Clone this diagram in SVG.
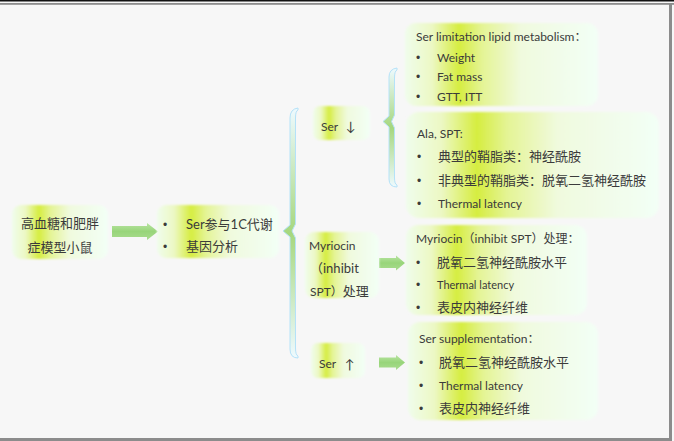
<svg xmlns="http://www.w3.org/2000/svg" width="674" height="441" viewBox="0 0 674 441">
<style>
.t{font-family:"Lato","Noto Sans CJK SC",sans-serif;font-size:12px;fill:#3b3b3b}
.c{font-family:"Lato","Noto Sans CJK SC",sans-serif;font-size:13px;fill:#3b3b3b}
.b{font-family:"Liberation Sans",sans-serif;font-size:12px;fill:#3b3b3b}
.box{fill:url(#g);filter:url(#soft)}
.brace{fill:url(#bg);stroke:#b5e2f8;stroke-width:1}
.arr{fill:url(#ag)}
</style>
<defs>
<linearGradient id="g" x1="0" y1="0" x2="1" y2="0">
<stop offset="0" stop-color="#f0fdec"/>
<stop offset="0.14" stop-color="#ecf8c4"/>
<stop offset="0.28" stop-color="#d6ed40"/>
<stop offset="0.4" stop-color="#e4f495"/>
<stop offset="0.6" stop-color="#f0fade"/>
<stop offset="1" stop-color="#f3fff6"/>
</linearGradient>
<linearGradient id="bg" x1="0" y1="0" x2="0" y2="1">
<stop offset="0" stop-color="#eefaff"/>
<stop offset="0.5" stop-color="#a6d77e"/>
<stop offset="1" stop-color="#eefaff"/>
</linearGradient>
<linearGradient id="ag" x1="0" y1="0" x2="0" y2="1">
<stop offset="0" stop-color="#b9e4a2"/>
<stop offset="0.5" stop-color="#98d57a"/>
<stop offset="1" stop-color="#a9dc8e"/>
</linearGradient>
<filter id="soft" x="-5%" y="-5%" width="110%" height="110%">
<feGaussianBlur stdDeviation="0.8"/>
</filter>
</defs>
<rect x="0" y="0" width="674" height="441" fill="#f7f7f7"/>
<rect x="0" y="0" width="674" height="1.5" fill="#111"/>
<rect x="0" y="3" width="674" height="1.8" fill="#8c8c8c"/>
<rect x="669" y="3" width="3" height="438" fill="#8c8c8c"/>
<rect x="0" y="438" width="672" height="3" fill="#8c8c8c"/>

<g id="connectors">
<polygon class="arr" points="112,226 147,226 147,223 158,231.5 147,240 147,237 112,237"/>
<polygon class="arr" points="379,258 396,258 396,255.5 405,263 396,270.5 396,268 379,268"/>
<polygon class="arr" points="379,357.5 396,357.5 396,355 405,362.5 396,370 396,367.5 379,367.5"/>
<path class="brace" d="M298,108 Q290,109 290,118 L290,225 L283,231 L290,237 L290,349 Q290,358 298,358 L298,356 Q295.5,355 295.5,348 L295.5,238 L292,231 L295.5,224 L295.5,118 Q295.5,111 298,110 Z"/>
<path class="brace" d="M397,68 Q389,69 389,77 L389,116 L383,121.5 L389,127 L389,179 Q389,187 397,187 L397,185 Q394.5,184 394.5,178 L394.5,128 L391.5,121.5 L394.5,115 L394.5,78 Q394.5,71 397,70 Z"/>
</g>

<g id="n1">
<rect class="box" x="12" y="205" width="96" height="54" rx="9"/>
<text class="c" x="60" y="228" text-anchor="middle">高血糖和肥胖</text>
<text class="c" x="60" y="251.5" text-anchor="middle">症模型小鼠</text>
</g>

<g id="n2">
<rect class="box" x="157" y="205" width="122" height="53" rx="9"/>
<text class="b" x="163" y="228.5">•</text>
<text class="c" x="186" y="228.5">Ser参与1C代谢</text>
<text class="b" x="163" y="250.5">•</text>
<text class="c" x="186" y="250.5">基因分析</text>
</g>

<g id="n3">
<rect class="box" x="313" y="106" width="57" height="34" rx="7"/>
<text class="t" x="321" y="131">Ser</text>
<text class="c" x="346" y="131">↓</text>
</g>

<g id="n4">
<rect class="box" x="405" y="23" width="193" height="83" rx="11"/>
<text class="t" x="416" y="41">Ser limitation lipid metabolism：</text>
<text class="b" x="416" y="61.5">•</text>
<text class="t" x="437" y="61.5">Weight</text>
<text class="b" x="416" y="80.5">•</text>
<text class="t" x="437" y="80.5">Fat mass</text>
<text class="b" x="416" y="100.5">•</text>
<text class="t" x="437" y="100.5">GTT, ITT</text>
</g>

<g id="n5">
<rect class="box" x="406" y="112" width="253" height="106" rx="13"/>
<text class="t" x="417" y="137.5">Ala, SPT:</text>
<text class="b" x="417" y="160.5">•</text>
<text class="c" x="438" y="160.5">典型的鞘脂类：神经酰胺</text>
<text class="b" x="417" y="184.5">•</text>
<text class="c" x="438" y="184.5">非典型的鞘脂类：脱氧二氢神经酰胺</text>
<text class="b" x="417" y="207.5">•</text>
<text class="t" x="438" y="207.5">Thermal latency</text>
</g>

<g id="n6">
<rect class="box" x="305" y="232" width="74" height="66" rx="9"/>
<text class="t" x="309" y="249.5">Myriocin</text>
<text class="c" x="310" y="272.5">（inhibit</text>
<text class="t" x="310" y="295.5">SPT）<tspan class="c">处理</tspan></text>
</g>

<g id="n7">
<rect class="box" x="406" y="225" width="181" height="90" rx="12"/>
<text class="t" x="416" y="242.5">Myriocin（inhibit SPT）处理：</text>
<text class="b" x="416" y="266.5">•</text>
<text class="c" x="437" y="266.5">脱氧二氢神经酰胺水平</text>
<text class="b" x="416" y="289">•</text>
<text class="t" x="437" y="288.5" style="font-size:11px">Thermal latency</text>
<text class="b" x="416" y="311.5">•</text>
<text class="c" x="437" y="311.5">表皮内神经纤维</text>
</g>

<g id="n8">
<rect class="box" x="311" y="343" width="54" height="35" rx="7"/>
<text class="t" x="319" y="368">Ser</text>
<text class="c" x="345" y="368.5">↑</text>
</g>

<g id="n9">
<rect class="box" x="408" y="322" width="190" height="98" rx="12"/>
<text class="t" x="419" y="343">Ser supplementation：</text>
<text class="b" x="419" y="366.5">•</text>
<text class="c" x="439" y="366.5">脱氧二氢神经酰胺水平</text>
<text class="b" x="419" y="390">•</text>
<text class="t" x="439" y="390">Thermal latency</text>
<text class="b" x="419" y="412.5">•</text>
<text class="c" x="439" y="412.5">表皮内神经纤维</text>
</g>
</svg>
